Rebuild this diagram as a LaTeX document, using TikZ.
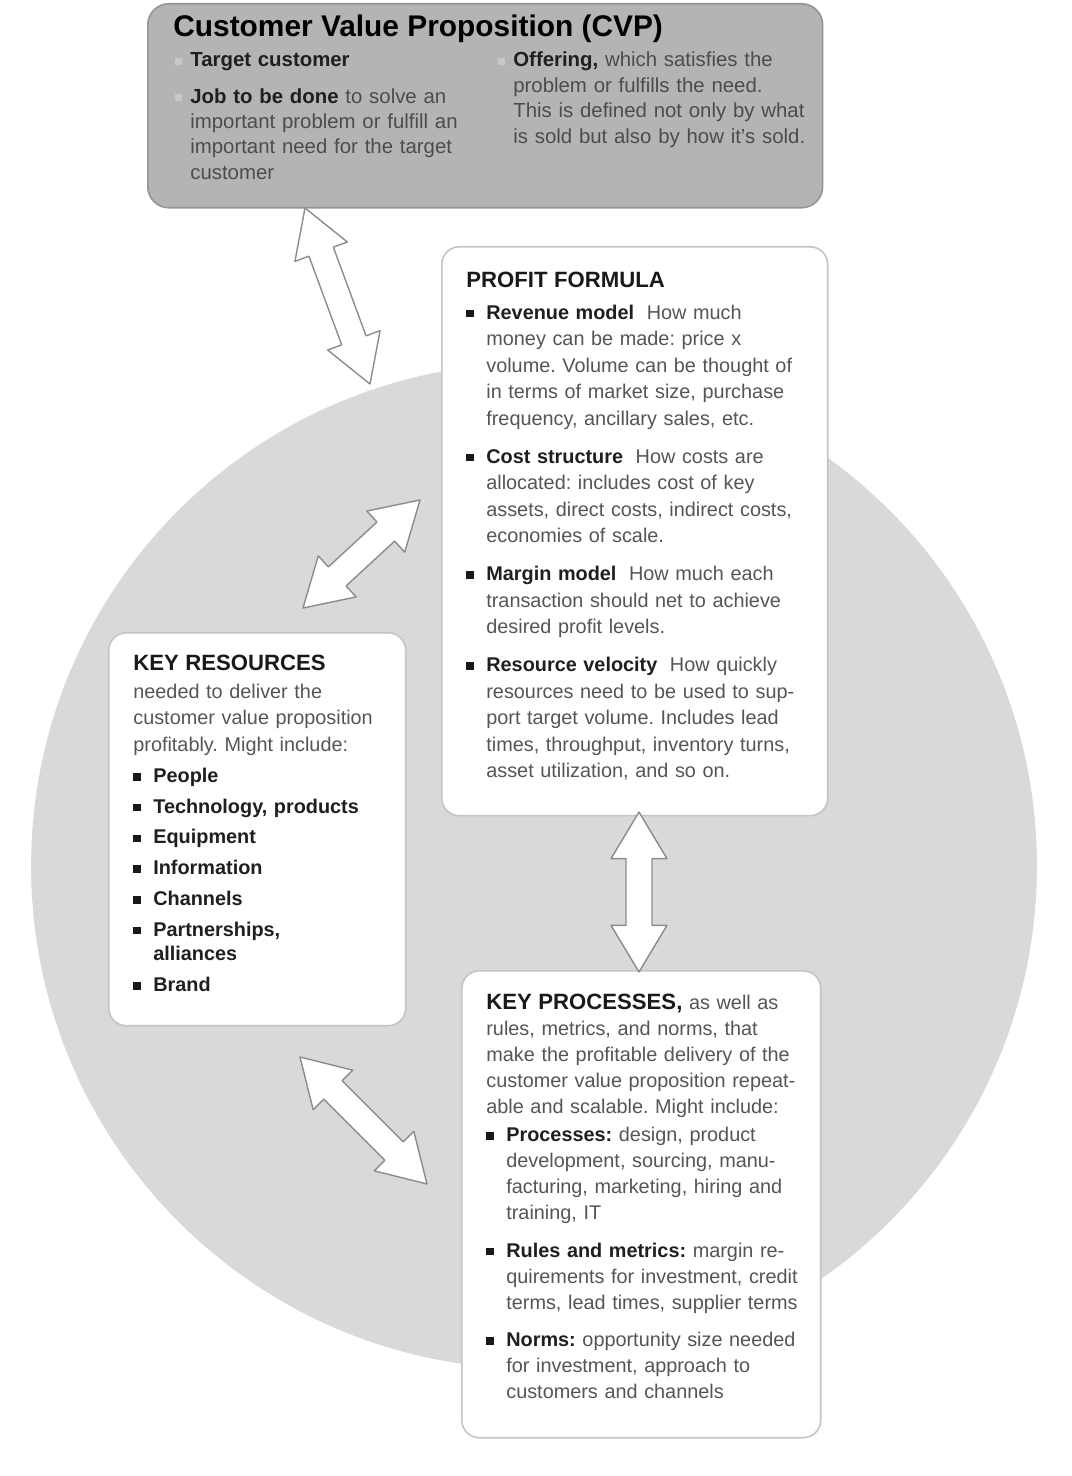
\documentclass[tikz,border=0pt]{standalone}
\usepackage{fontspec}
\setmainfont{Liberation Sans}
\usetikzlibrary{positioning, calc}
\frenchspacing

\definecolor{cvpgray}{HTML}{B4B4B4}
\definecolor{ringgray}{HTML}{D9D9D9}
\definecolor{edgegray}{HTML}{C4C4C4}
\definecolor{textgray}{HTML}{555555}

\tikzset{
	cvpbox/.style={rectangle, rounded corners=12pt, draw=black!42, line width=0.9pt,
		fill=cvpgray, anchor=north west, inner sep=0pt},
	partbox/.style={rectangle, rounded corners=10pt, draw=edgegray, line width=0.9pt,
		fill=white, anchor=north west, inner sep=0pt},
	boxtext/.style={anchor=base west, inner sep=0pt, align=left, text width=7.2cm,
		text=textgray, font=\fontsize{11.3}{15.1}\selectfont},
	cvptext/.style={boxtext, text=black!70, font=\fontsize{11.6}{14.5}\selectfont},
	blockarr/.style={draw=black!45, line width=0.8pt, fill=white, line join=round},
}

% bullets, indents and bold labels
\newcommand{\bul}{\makebox[0.4cm][l]{\color{black!90}\rule[1pt]{4.3pt}{4.3pt}}}
\newcommand{\ind}{\hspace*{0.4cm}}
\newcommand{\cvpbul}{\makebox[0.3cm][l]{\color{black!22}\rule[1pt]{4pt}{4pt}}}
\newcommand{\cvpind}{\hspace*{0.3cm}}
\newcommand{\hd}[1]{{\color{black!88}\bfseries #1}}
\newcommand{\headfont}{\color{black!90}\bfseries\fontsize{12.6}{15}\selectfont}
% white block arrow with two heads between two named points
\newcommand{\dblarrow}[2]{%
	\draw[blockarr] (#1)
	-- ($(#1)!26.5pt!(#2)!15.9pt!90:(#2)$) -- ($(#1)!26.5pt!(#2)!7.4pt!90:(#2)$)
	-- ($(#2)!26.5pt!(#1)!7.4pt!-90:(#1)$) -- ($(#2)!26.5pt!(#1)!15.9pt!-90:(#1)$)
	-- (#2)
	-- ($(#2)!26.5pt!(#1)!15.9pt!90:(#1)$) -- ($(#2)!26.5pt!(#1)!7.4pt!90:(#1)$)
	-- ($(#1)!26.5pt!(#2)!7.4pt!-90:(#2)$) -- ($(#1)!26.5pt!(#2)!15.9pt!-90:(#2)$)
	-- cycle;}

\begin{document}
\begin{tikzpicture}[x=0.02cm, y=-0.02cm]
	\useasboundingbox (0,0) rectangle (1071,1476);

	\node[circle, fill=ringgray, minimum size=20.12cm, inner sep=0pt] (ring) at (534,866) {};

	% boxes
	\node[cvpbox, minimum width=13.5cm, minimum height=4.08cm] (cvp) at (147,3) {};
	\node[partbox, minimum width=7.72cm, minimum height=11.38cm] (pf) at (441,246) {};
	\node[partbox, minimum width=5.94cm, minimum height=7.86cm] (kr) at (108,632) {};
	\node[partbox, minimum width=7.18cm, minimum height=9.34cm] (kp) at (461,970) {};

	% texts
	\node[anchor=base west, inner sep=0pt, font=\bfseries\fontsize{17}{19}\selectfont] (cvptitle) at (173,37) {Customer Value Proposition (CVP)};
	\node[cvptext, text width=6cm] (cvpleft) at (175,67) {\cvpbul\hd{Target customer}\\[6pt]
		\cvpbul\hd{Job to be done} to solve an\\
		\cvpind important problem or fulfill an\\
		\cvpind important need for the target\\
		\cvpind customer};
	\node[cvptext, text width=6.4cm] (cvpright) at (498,67) {\cvpbul\hd{Offering,} which satisfies the\\
		\cvpind problem or fulfills the need.\\
		\cvpind This is defined not only by what\\
		\cvpind is sold but also by how it’s sold.};

	\node[boxtext] (pftext) at (466,288) {{\headfont PROFIT FORMULA}\\[2.6pt]
		\bul\hd{Revenue model}\hspace{0.3em} How much\\
		\ind money can be made: price x\\
		\ind volume. Volume can be thought of\\
		\ind in terms of market size, purchase\\
		\ind frequency, ancillary sales, etc.\\[6.5pt]
		\bul\hd{Cost structure}\hspace{0.3em} How costs are\\
		\ind allocated: includes cost of key\\
		\ind assets, direct costs, indirect costs,\\
		\ind economies of scale.\\[6.5pt]
		\bul\hd{Margin model}\hspace{0.3em} How much each\\
		\ind transaction should net to achieve\\
		\ind desired profit levels.\\[6.5pt]
		\bul\hd{Resource velocity}\hspace{0.3em} How quickly\\
		\ind resources need to be used to sup-\\
		\ind port target volume. Includes lead\\
		\ind times, throughput, inventory turns,\\
		\ind asset utilization, and so on.};

	\node[boxtext, text width=5.4cm] (krtext) at (133,670) {{\headfont KEY RESOURCES}\\[1pt]
		needed to deliver the\\
		customer value proposition\\
		profitably. Might include:\\[2.6pt]
		\bul\hd{People}\\[2.4pt]
		\bul\hd{Technology, products}\\[2.4pt]
		\bul\hd{Equipment}\\[2.4pt]
		\bul\hd{Information}\\[2.4pt]
		\bul\hd{Channels}\\[2.4pt]
		\bul\hd{Partnerships,}\\[-1.4pt]
		\ind\hd{alliances}\\[2.6pt]
		\bul\hd{Brand}};

	\node[boxtext, font=\fontsize{11.3}{14.8}\selectfont] (kptext) at (486,1009) {{\headfont KEY PROCESSES,} as well as\\
		rules, metrics, and norms, that\\
		make the profitable delivery of the\\
		customer value proposition repeat-\\
		able and scalable. Might include:\\[1.5pt]
		\bul\hd{Processes:} design, product\\
		\ind development, sourcing, manu-\\
		\ind facturing, marketing, hiring and\\
		\ind training, IT\\[6.5pt]
		\bul\hd{Rules and metrics:} margin re-\\
		\ind quirements for investment, credit\\
		\ind terms, lead times, supplier terms\\[6.5pt]
		\bul\hd{Norms:} opportunity size needed\\
		\ind for investment, approach to\\
		\ind customers and channels};

	% arrow ends
	\coordinate (cvpend) at (305,208);
	\coordinate (ringtop) at (370,384);
	\coordinate (krup) at (303,608);
	\coordinate (pfleft) at (420,500);
	\coordinate (pfdown) at (639,812);
	\coordinate (kpup) at (639,972);
	\coordinate (krdown) at (300,1057);
	\coordinate (kpleft) at (427,1184);

	% block arrows
	\dblarrow{cvpend}{ringtop}
	\dblarrow{krup}{pfleft}
	\dblarrow{pfdown}{kpup}
	\dblarrow{krdown}{kpleft}
\end{tikzpicture}
\end{document}
